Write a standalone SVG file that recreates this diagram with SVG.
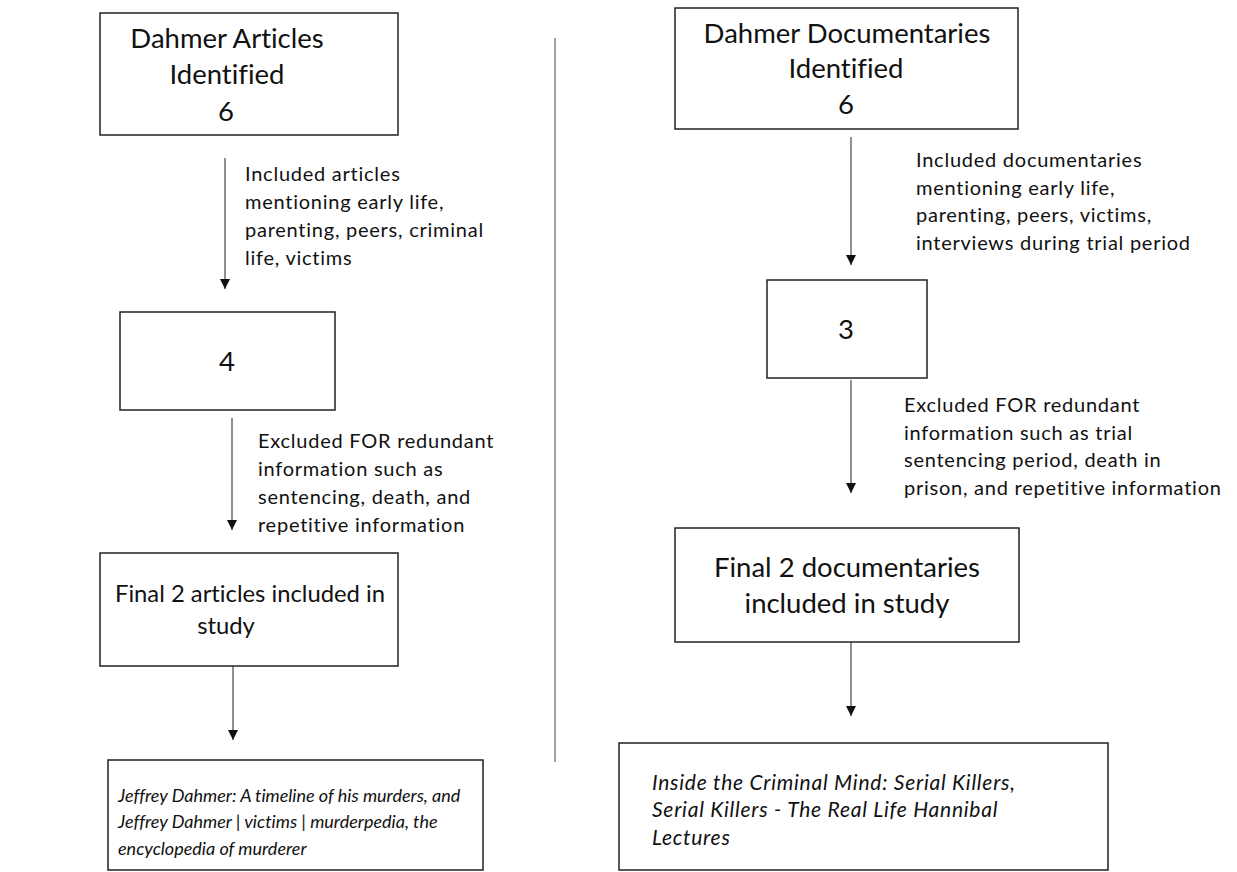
<svg xmlns="http://www.w3.org/2000/svg" width="1237" height="872" viewBox="0 0 1237 872">
  <style>
    text { font-variant-ligatures: none; }
    .box { fill: #ffffff; stroke: #222222; stroke-width: 1.5; }
    .title { font-family: Lato, "Open Sans", sans-serif; font-size: 27.5px; fill: #111111; text-anchor: middle; }
    .title-sm { font-family: Lato, "Open Sans", sans-serif; font-size: 23.8px; fill: #111111; text-anchor: middle; }
    .label { font-family: Lato, "Open Sans", sans-serif; font-size: 20px; letter-spacing: 0.75px; fill: #111111; }
    .ital { font-family: Lato, "Open Sans", sans-serif; font-size: 18px; font-style: italic; fill: #111111; }
    .ital-lg { font-family: Lato, "Open Sans", sans-serif; font-size: 21px; letter-spacing: 0.75px; font-style: italic; fill: #111111; }
    .conn { stroke: #222222; stroke-width: 1; fill: none; }
  </style>
  <defs>
    <marker id="arrow" viewBox="0 0 10 10" refX="10" refY="5" markerWidth="10" markerHeight="10" markerUnits="userSpaceOnUse" orient="auto">
      <path d="M0,0 L10,5 L0,10 Z" fill="#111111"/>
    </marker>
  </defs>
  <rect width="1237" height="872" fill="#ffffff"/>

  <g id="divider">
    <line x1="555" y1="38" x2="555" y2="762" stroke="#a0a0a0" stroke-width="2"/>
  </g>

  <g id="connectors">
    <line class="conn" x1="225" y1="158" x2="225" y2="289" marker-end="url(#arrow)"/>
    <line class="conn" x1="232" y1="418" x2="232" y2="530" marker-end="url(#arrow)"/>
    <line class="conn" x1="233" y1="666" x2="233" y2="740" marker-end="url(#arrow)"/>
    <line class="conn" x1="851" y1="137" x2="851" y2="265" marker-end="url(#arrow)"/>
    <line class="conn" x1="851" y1="380" x2="851" y2="493" marker-end="url(#arrow)"/>
    <line class="conn" x1="851" y1="642" x2="851" y2="716" marker-end="url(#arrow)"/>
  </g>

  <g id="labels">
    <text class="label" x="245" y="181">Included articles</text>
    <text class="label" x="245" y="209">mentioning early life,</text>
    <text class="label" x="245" y="237">parenting, peers, criminal</text>
    <text class="label" x="245" y="265">life, victims</text>

    <text class="label" x="258" y="448">Excluded FOR redundant</text>
    <text class="label" x="258" y="476">information such as</text>
    <text class="label" x="258" y="504">sentencing, death, and</text>
    <text class="label" x="258" y="532">repetitive information</text>

    <text class="label" x="916" y="167">Included documentaries</text>
    <text class="label" x="916" y="195">mentioning early life,</text>
    <text class="label" x="916" y="222">parenting, peers, victims,</text>
    <text class="label" x="916" y="250">interviews during trial period</text>

    <text class="label" x="904" y="412">Excluded FOR redundant</text>
    <text class="label" x="904" y="440">information such as trial</text>
    <text class="label" x="904" y="467">sentencing period, death in</text>
    <text class="label" x="904" y="495">prison, and repetitive information</text>
  </g>

  <g id="articles-identified">
    <rect class="box" x="100" y="13" width="298" height="122"/>
    <text class="title" x="227" y="48">Dahmer Articles</text>
    <text class="title" x="227" y="84">Identified</text>
    <text class="title" x="226" y="121">6</text>
  </g>

  <g id="articles-4">
    <rect class="box" x="120" y="312" width="215" height="98"/>
    <text class="title" x="227" y="371">4</text>
  </g>

  <g id="articles-final">
    <rect class="box" x="100" y="553" width="298" height="113"/>
    <text class="title-sm" x="250" y="602">Final 2 articles included in</text>
    <text class="title-sm" x="226" y="634">study</text>
  </g>

  <g id="articles-list">
    <rect class="box" x="108" y="760" width="375" height="110"/>
    <text class="ital" x="118" y="802">Jeffrey Dahmer: A timeline of his murders, and</text>
    <text class="ital" x="118" y="828">Jeffrey Dahmer | victims | murderpedia, the</text>
    <text class="ital" x="118" y="855">encyclopedia of murderer</text>
  </g>

  <g id="docs-identified">
    <rect class="box" x="675" y="8" width="343" height="121"/>
    <text class="title" x="847" y="43">Dahmer Documentaries</text>
    <text class="title" x="846" y="78">Identified</text>
    <text class="title" x="846" y="114">6</text>
  </g>

  <g id="docs-3">
    <rect class="box" x="767" y="280" width="160" height="98"/>
    <text class="title" x="846" y="339">3</text>
  </g>

  <g id="docs-final">
    <rect class="box" x="675" y="528" width="344" height="114"/>
    <text class="title" x="847" y="577">Final 2 documentaries</text>
    <text class="title" x="847" y="613">included in study</text>
  </g>

  <g id="docs-list">
    <rect class="box" x="619" y="743" width="489" height="127"/>
    <text class="ital-lg" x="652" y="790">Inside the Criminal Mind: Serial Killers,</text>
    <text class="ital-lg" x="652" y="817">Serial Killers - The Real Life Hannibal</text>
    <text class="ital-lg" x="652" y="845">Lectures</text>
  </g>
</svg>
